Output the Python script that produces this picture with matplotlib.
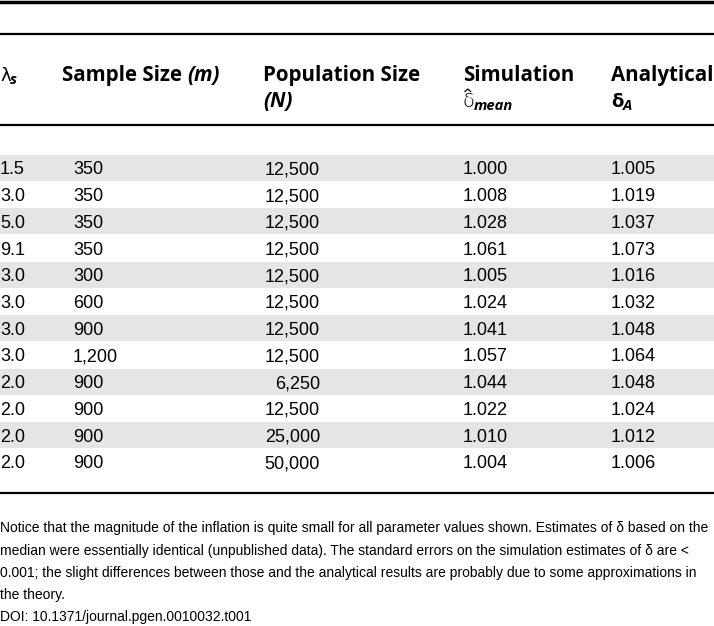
import matplotlib
matplotlib.use("Agg")
import matplotlib.pyplot as plt

plt.rcParams["font.family"] = ["Liberation Sans", "DejaVu Sans"]

lam = ["1.5", "3.0", "5.0", "9.1", "3.0", "3.0", "3.0", "3.0", "2.0", "2.0", "2.0", "2.0"]
sample_m = ["350", "350", "350", "350", "300", "600", "900", "1,200", "900", "900", "900", "900"]
pop_n = ["12,500", "12,500", "12,500", "12,500", "12,500", "12,500", "12,500", "12,500",
         "6,250", "12,500", "25,000", "50,000"]
sim_delta = ["1.000", "1.008", "1.028", "1.061", "1.005", "1.024", "1.041", "1.057",
             "1.044", "1.022", "1.010", "1.004"]
ana_delta = ["1.005", "1.019", "1.037", "1.073", "1.016", "1.032", "1.048", "1.064",
             "1.048", "1.024", "1.012", "1.006"]

footnote = [
    "Notice that the magnitude of the inflation is quite small for all parameter values shown. Estimates of \u03b4 based on the",
    "median were essentially identical (unpublished data). The standard errors on the simulation estimates of \u03b4 are <",
    "0.001; the slight differences between those and the analytical results are probably due to some approximations in",
    "the theory.",
    "DOI: 10.1371/journal.pgen.0010032.t001",
]

W, H = 714, 626
fig = plt.figure(figsize=(W / 100, H / 100), dpi=100)
ax = fig.add_axes([0, 0, 1, 1])
ax.set_xlim(0, W)
ax.set_ylim(H, 0)
ax.axis("off")

# rules
ax.axhline(1.5, color="black", lw=2.5)
ax.axhline(34, color="black", lw=1.6)
ax.axhline(125, color="black", lw=1.6)
ax.axhline(493, color="black", lw=1.6)

FS = 13
row0, pitch = 168, 26.7
for i in range(len(lam)):
    y = row0 + i * pitch
    if i % 2 == 0:
        ax.axhspan(y - 13, y + 13, color="#e5e5e5", lw=0, zorder=0)
    yb = y + 6.5
    ax.text(0, yb, lam[i], fontsize=FS, va="baseline")
    ax.text(73, yb, sample_m[i], fontsize=FS, va="baseline")
    ax.text(320, yb, pop_n[i], fontsize=FS, va="baseline", ha="right")
    ax.text(463, yb, sim_delta[i], fontsize=FS, va="baseline")
    ax.text(611, yb, ana_delta[i], fontsize=FS, va="baseline")

fig.canvas.draw()
rend = fig.canvas.get_renderer()


def pieces(x, y, parts):
    # draw text pieces one after another on one line
    for s, kw in parts:
        t = ax.text(x, y, s, va="baseline", **kw)
        x += t.get_window_extent(rend).width
    return x


HF = ["Open Sans", "DejaVu Sans"]
HS = 14.8
B = dict(fontsize=HS, fontweight="bold", family=HF)
BI = dict(fontsize=HS, fontweight="bold", fontstyle="italic", family=HF)
SUB = dict(fontsize=HS * 0.72, fontweight="bold", fontstyle="italic", family=HF)

h1, h2 = 81, 107
ax.text(0, h1, "\u03bb", fontsize=FS, va="baseline", family="DejaVu Sans")
ax.text(9.5, h1 + 3, "s", va="baseline", **SUB)
pieces(62, h1, [("Sample Size ", B), ("(m)", BI)])
ax.text(263, h1, "Population Size", va="baseline", **B)
ax.text(263, h2, "(N)", va="baseline", **BI)
ax.text(463, h1, "Simulation", va="baseline", **B)
ax.text(463, h2, "\u03b4", fontsize=FS + 1, va="baseline", family="DejaVu Sans", fontweight="light")
ax.plot([465, 467.8, 470.6], [91.5, 89, 91.5], color="black", lw=0.9)
ax.text(474, h2 + 3, "mean", va="baseline", **SUB)
ax.text(611, h1, "Analytical", va="baseline", **B)
ax.text(611, h2, "\u03b4", va="baseline", fontsize=FS, fontweight="bold", family="DejaVu Sans")
ax.text(623, h2 + 3, "A", va="baseline", **SUB)

fy = [532, 554.5, 577, 599.5, 621]
for y, line in zip(fy, footnote):
    ax.text(0, y, line, fontsize=10.0, va="baseline")

fig.savefig("out.png", dpi=100, facecolor="white")
